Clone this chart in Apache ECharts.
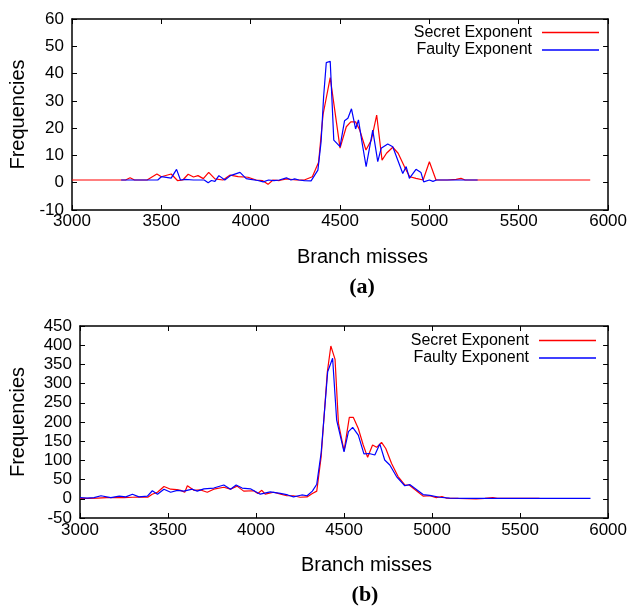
<!DOCTYPE html>
<html>
<head>
<meta charset="utf-8">
<script src="https://cdn.jsdelivr.net/npm/echarts@6/dist/echarts.min.js"></script>
<style>
  html, body { margin: 0; padding: 0; background: #fff; }
  #chart { width: 630px; height: 607px; }
</style>
</head>
<body>
<div id="chart"></div>
<script>
// panel (a)
const aSecretX = [3000, 3300, 3325, 3350, 3420, 3475, 3500, 3555, 3590, 3620, 3650, 3680, 3705, 3735, 3765, 3800, 3845, 3885, 3930, 3985, 4030, 4065, 4097, 4125, 4160, 4200, 4255, 4300, 4345, 4380, 4405, 4445, 4500, 4535, 4560, 4587, 4610, 4645, 4675, 4705, 4735, 4760, 4795, 4825, 4860, 4890, 4925, 4965, 5000, 5037, 5100, 5150, 5177, 5200, 5900];
const aSecretY = [1, 1, 1.8, 1, 1, 3.2, 2.2, 3.2, 0.8, 1, 3.1, 2.1, 2.6, 1.5, 3.8, 1.4, 1, 2.8, 2.2, 2, 1, 0.8, -0.6, 1, 0.8, 1.4, 1, 1, 2.2, 7.5, 25, 38.5, 12.7, 20.5, 22.3, 22.3, 19.3, 12, 15.6, 24.8, 8.3, 10.8, 13, 10.8, 5.9, 2.2, 1.6, 1, 7.7, 1, 1, 1.2, 1.6, 1, 1];
const aFaultyX = [3275, 3480, 3500, 3555, 3585, 3607, 3632, 3680, 3740, 3762, 3780, 3800, 3822, 3855, 3887, 3940, 3975, 4000, 4040, 4070, 4100, 4130, 4160, 4200, 4225, 4246, 4270, 4300, 4338, 4376, 4394, 4408, 4423, 4445, 4465, 4500, 4525, 4544, 4564, 4587, 4603, 4625, 4646, 4683, 4711, 4730, 4767, 4795, 4851, 4870, 4888, 4925, 4953, 4968, 5000, 5020, 5040, 5270];
const aFaultyY = [1, 1, 2.2, 1.7, 4.9, 1, 1.2, 1, 1, 0, 0.8, 0.5, 2.6, 1, 2.6, 3.8, 1.5, 1.2, 0.8, 0.3, 1, 0.8, 1, 1.8, 1, 1.4, 1, 0.8, 0.7, 4.6, 15, 31.5, 44, 44.5, 15.6, 13.2, 22.7, 23.6, 27.1, 19.7, 23, 14, 5.9, 19.3, 7.7, 12.6, 14.2, 13.2, 3.4, 5.9, 1.6, 4.9, 3.7, 0.3, 1, 0.5, 1, 1];

// panel (b)
const bSecretX = [3000, 3050, 3100, 3150, 3200, 3250, 3300, 3350, 3385, 3410, 3440, 3477, 3515, 3550, 3572, 3595, 3610, 3647, 3685, 3723, 3760, 3817, 3855, 3892, 3930, 3987, 4010, 4033, 4052, 4100, 4140, 4175, 4213, 4250, 4290, 4320, 4345, 4370, 4405, 4425, 4449, 4468, 4500, 4530, 4553, 4581, 4609, 4634, 4662, 4685, 4713, 4737, 4770, 4807, 4845, 4870, 4911, 4949, 4987, 5024, 5056, 5080, 5150, 5250, 5300, 5345, 5370, 5610];
const bSecretY = [1, 1, 2, 3, 3, 3, 4, 5, 4, 12, 17, 32, 25, 24, 22, 17, 34, 22, 23, 17, 25, 30, 25, 33, 20, 21, 14, 22, 12, 17, 12, 8, 8, 4, 5, 14, 20, 110, 330, 398, 363, 197, 125, 212, 212, 183, 140, 108, 140, 134, 147, 131, 92, 58, 36, 36, 21, 7, 8, 3, 6, 2, 1, 0, 1, 3, 1, 1];
const bFaultyX = [3000, 3040, 3080, 3119, 3175, 3223, 3260, 3298, 3335, 3383, 3411, 3440, 3477, 3515, 3553, 3590, 3638, 3666, 3704, 3760, 3817, 3855, 3887, 3921, 3968, 4024, 4081, 4138, 4180, 4213, 4260, 4290, 4320, 4345, 4370, 4407, 4435, 4458, 4500, 4525, 4549, 4581, 4613, 4643, 4675, 4703, 4731, 4760, 4798, 4845, 4873, 4911, 4949, 4987, 5043, 5100, 5200, 5900];
const bFaultyY = [3, 2, 3, 8, 3, 7, 5, 12, 5, 7, 21, 12, 25, 17, 22, 20, 25, 20, 26, 28, 36, 25, 36, 28, 26, 12, 18, 14, 10, 5, 10, 8, 20, 38, 120, 331, 366, 205, 122, 175, 186, 166, 117, 118, 114, 143, 101, 88, 58, 34, 37, 24, 11, 9, 4, 2, 1, 1];

const xTicks = { min: 3000, max: 6000, interval: 500 };
const aYTicks = { min: -10, max: 60, interval: 10 };
const bYTicks = { min: -50, max: 450, interval: 50 };

const pairs = (xs, ys) => xs.map((x, i) => [x, ys[i]]);

const FONT = 'Liberation Sans';

const frameAxis = (extra) => Object.assign({
  type: 'value',
  axisLine: { show: true, onZero: false, lineStyle: { color: '#000', width: 1.5 } },
  axisTick: { show: true, inside: true, length: 5, lineStyle: { color: '#000', width: 1 } },
  splitLine: { show: false },
}, extra);

const plain = v => String(v);

const xAxes = (grid, labelMargin) => [
  frameAxis(Object.assign({
    gridIndex: grid, position: 'bottom',
    axisLabel: { color: '#000', fontSize: 17, fontFamily: FONT, margin: labelMargin, formatter: plain, showMaxLabel: true, showMinLabel: true },
    name: 'Branch misses', nameLocation: 'middle', nameGap: 37,
    nameTextStyle: { color: '#000', fontSize: 20, fontFamily: FONT, padding: [0, 0, 0, 45] },
  }, xTicks)),
  frameAxis(Object.assign({ gridIndex: grid, position: 'top', axisLabel: { show: false } }, xTicks)),
];

const yAxes = (grid, ticks, gap) => [
  frameAxis(Object.assign({
    gridIndex: grid, position: 'left',
    axisLabel: { color: '#000', fontSize: 17, fontFamily: FONT, margin: 8, formatter: plain, showMaxLabel: true, showMinLabel: true },
    name: 'Frequencies', nameLocation: 'middle', nameGap: gap,
    nameTextStyle: { color: '#000', fontSize: 20, fontFamily: FONT },
  }, ticks)),
  frameAxis(Object.assign({ gridIndex: grid, position: 'right', axisLabel: { show: false } }, ticks)),
];

const legendFor = (top, right) => ({
  orient: 'vertical',
  align: 'right',
  top: top,
  right: right,
  padding: 0,
  icon: 'rect',
  itemWidth: 57,
  itemHeight: 1.5,
  itemGap: 1.5,
  selectedMode: false,
  textStyle: { color: '#000', fontSize: 16, fontFamily: FONT, lineHeight: 15, padding: [0, 5, 0, 0] },
  data: ['Secret Exponent', 'Faulty Exponent'],
});

const lineSeries = (name, color, data, grid) => ({
  name: name,
  type: 'line',
  xAxisIndex: grid * 2,
  yAxisIndex: grid * 2,
  data: data,
  symbol: 'none',
  showSymbol: false,
  lineStyle: { color: color, width: 1.2 },
  itemStyle: { color: color },
});

const chart = echarts.init(document.getElementById('chart'), null, { renderer: 'canvas' });

chart.setOption({
  animation: false,
  backgroundColor: '#fff',
  grid: [
    { left: 72, right: 21, top: 19, height: 191 },
    { left: 79, right: 21, top: 326, height: 192 },
  ],
  xAxis: [...xAxes(0, 3), ...xAxes(1, 4)],
  yAxis: [...yAxes(0, aYTicks, 44), ...yAxes(1, bYTicks, 52)],
  legend: [legendFor(24.5, 31), legendFor(332.5, 34)],
  series: [
    lineSeries('Secret Exponent', '#ff0000', pairs(aSecretX, aSecretY), 0),
    lineSeries('Faulty Exponent', '#0000ff', pairs(aFaultyX, aFaultyY), 0),
    lineSeries('Secret Exponent', '#ff0000', pairs(bSecretX, bSecretY), 1),
    lineSeries('Faulty Exponent', '#0000ff', pairs(bFaultyX, bFaultyY), 1),
  ],
  graphic: [
    { type: 'text', x: 362, y: 287, style: { text: '(a)', fill: '#000', font: 'bold 22px "Liberation Serif"', textAlign: 'center', textVerticalAlign: 'middle' } },
    { type: 'text', x: 365, y: 595, style: { text: '(b)', fill: '#000', font: 'bold 22px "Liberation Serif"', textAlign: 'center', textVerticalAlign: 'middle' } },
  ],
});

window.addEventListener('resize', function () {
  chart.resize();
});
</script>
</body>
</html>
